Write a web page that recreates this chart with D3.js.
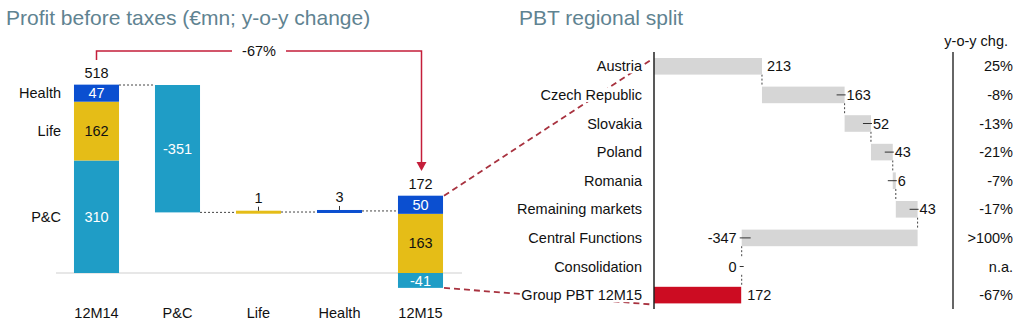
<!DOCTYPE html>
<html><head><meta charset="utf-8">
<script src="https://cdn.jsdelivr.net/npm/d3@7"></script>
<style>body{margin:0;background:#fff} svg{display:block;font-family:"Liberation Sans",Arial,sans-serif}</style>
</head><body><svg id="c" width="1024" height="330"></svg>
<script>
// ---------- data ----------
const wfCategories = ["12M14", "P&C", "Life", "Health", "12M15"];
const segments = ["P&C", "Life", "Health"];
const start2014 = [310, 162, 47];      // P&C, Life, Health
const total2014 = 518;
const changes = [-351, 1, 3];          // P&C, Life, Health
const end2015 = [-41, 163, 50];        // P&C, Life, Health
const total2015 = 172;
const overallChange = "-67%";

const regions = ["Austria", "Czech Republic", "Slovakia", "Poland", "Romania", "Remaining markets", "Central Functions", "Consolidation", "Group PBT 12M15"];
const regionValues = [213, 163, 52, 43, 6, 43, -347, 0, 172];
const yoyLabels = ["25%", "-8%", "-13%", "-21%", "-7%", "-17%", ">100%", "n.a.", "-67%"];

const titles = ["Profit before taxes (€mn; y-o-y change)", "PBT regional split"];

// ---------- styles ----------
const segColor = {"P&C": "#1f9dc6", "Life": "#e5bd17", "Health": "#0b4fd0"};
const segText = {"P&C": "#ffffff", "Life": "#111111", "Health": "#ffffff"};
const FS = "14.5px";
const red = "#c41e3a";

const svg = d3.select("#c");

// titles
svg.append("text").attr("x", 6).attr("y", 25).attr("font-size", "21px").attr("fill", "#5f8391").text(titles[0]);
svg.append("text").attr("x", 519).attr("y", 25).attr("font-size", "21px").attr("fill", "#5f8391").text(titles[1]);

// ---------- left waterfall ----------
const x = d3.scaleBand().domain(wfCategories).range([56, 461]).paddingInner(0.444).paddingOuter(0.222);
const y = d3.scaleLinear().domain([0, total2014]).range([273, 85]);
const bw = x.bandwidth();
const gL = svg.append("g");

// baseline
gL.append("line").attr("x1", 56).attr("x2", 462).attr("y1", y(0)).attr("y2", y(0)).attr("stroke", "#cfcfcf").attr("stroke-width", 1.2);

// 12M14 stack
let cum = 0;
const stack14 = segments.map((s, i) => { const d = {seg: s, v: start2014[i], y0: cum, y1: cum + start2014[i]}; cum += start2014[i]; return d; });
// 12M15 stack (positive up, negative down)
let pos = 0, neg = 0;
const stack15 = segments.map((s, i) => {
  const v = end2015[i];
  let d;
  if (v >= 0) { d = {seg: s, v, y0: pos, y1: pos + v}; pos += v; }
  else { d = {seg: s, v, y0: neg + v, y1: neg}; neg += v; }
  return d;
});

function drawStack(cat, stack) {
  stack.forEach(d => {
    gL.append("rect").attr("x", x(cat)).attr("width", bw)
      .attr("y", y(d.y1)).attr("height", y(d.y0) - y(d.y1)).attr("fill", segColor[d.seg]);
    gL.append("text").attr("x", x(cat) + bw / 2).attr("y", (y(d.y0) + y(d.y1)) / 2)
      .attr("dy", "0.35em").attr("text-anchor", "middle").attr("font-size", FS)
      .attr("fill", segText[d.seg]).text(d.v);
  });
}
drawStack("12M14", stack14);
drawStack("12M15", stack15);

// segment labels on left
stack14.forEach(d => {
  gL.append("text").attr("x", 61).attr("y", (y(d.y0) + y(d.y1)) / 2).attr("dy", "0.35em")
    .attr("text-anchor", "end").attr("font-size", FS).attr("fill", "#111").text(d.seg);
});

// totals
gL.append("text").attr("x", x("12M14") + bw / 2).attr("y", y(cum) - 7).attr("text-anchor", "middle")
  .attr("font-size", FS).attr("fill", "#111").text(total2014);
gL.append("text").attr("x", x("12M15") + bw / 2).attr("y", y(pos) - 7).attr("text-anchor", "middle")
  .attr("font-size", FS).attr("fill", "#111").text(total2015);

// change bars
let running = total2014;
let prevRight = x("12M14") + bw;
changes.forEach((c, i) => {
  const cat = segments[i];
  const a = running, b = running + c;
  gL.append("line").attr("x1", prevRight).attr("x2", x(cat)).attr("y1", y(a)).attr("y2", y(a))
    .attr("stroke", "#444").attr("stroke-width", 1).attr("stroke-dasharray", "2,2");
  const top = y(Math.max(a, b)), bot = y(Math.min(a, b));
  let h = bot - top;
  let yy = top;
  if (h < 3) { yy = (top + bot) / 2 - 1.5; h = 3; }
  gL.append("rect").attr("x", x(cat)).attr("width", bw).attr("y", yy).attr("height", h).attr("fill", segColor[cat]);
  if (Math.abs(c) > 20) {
    gL.append("text").attr("x", x(cat) + bw / 2).attr("y", (top + bot) / 2).attr("dy", "0.35em")
      .attr("text-anchor", "middle").attr("font-size", FS).attr("fill", segText[cat]).text(c);
  } else {
    gL.append("line").attr("x1", x(cat) + bw / 2).attr("x2", x(cat) + bw / 2).attr("y1", yy).attr("y2", yy - 4)
      .attr("stroke", "#333").attr("stroke-width", 1);
    gL.append("text").attr("x", x(cat) + bw / 2).attr("y", yy - 8).attr("text-anchor", "middle")
      .attr("font-size", FS).attr("fill", "#111").text(c);
  }
  running = b;
  prevRight = x(cat) + bw;
});
gL.append("line").attr("x1", prevRight).attr("x2", x("12M15")).attr("y1", y(running)).attr("y2", y(running))
  .attr("stroke", "#444").attr("stroke-width", 1).attr("stroke-dasharray", "2,2");

// category axis labels
wfCategories.forEach(c => {
  gL.append("text").attr("x", x(c) + bw / 2).attr("y", 318).attr("text-anchor", "middle")
    .attr("font-size", FS).attr("fill", "#111").text(c);
});

// bracket with -67%
const bx1 = x("12M14") + bw / 2, bx2 = x("12M15") + bw / 2 + 1, by = 51;
const midX = (bx1 + bx2) / 2;
gL.append("path").attr("d", `M${bx1},60 V${by} H${midX - 27}`).attr("fill", "none").attr("stroke", red).attr("stroke-width", 1.5);
gL.append("path").attr("d", `M${midX + 27},${by} H${bx2} V${163}`).attr("fill", "none").attr("stroke", red).attr("stroke-width", 1.5);
gL.append("path").attr("d", `M${bx2 - 5},162 L${bx2 + 5},162 L${bx2},171 Z`).attr("fill", red);
gL.append("text").attr("x", midX).attr("y", by).attr("dy", "0.35em").attr("text-anchor", "middle")
  .attr("font-size", FS).attr("fill", "#111").text(overallChange);

// ---------- right regional waterfall ----------
const xr = d3.scaleLinear().domain([0, 520]).range([654, 917.6]);
const yr = d3.scaleBand().domain(regions).range([52, 309.4]).paddingInner(0.42).paddingOuter(0.21);
const bh = yr.bandwidth();
const gR = svg.append("g");

let rc = 0;
const rbars = regions.map((r, i) => {
  const v = regionValues[i];
  let s, e;
  if (i === regions.length - 1) { s = 0; e = v; }
  else { s = rc; e = rc + v; rc = e; }
  return {r, v, s, e, i};
});

// dashed red link lines (behind labels)
gR.append("line").attr("x1", x("12M15") + bw + 1).attr("y1", y(pos)).attr("x2", xr(0) - 3).attr("y2", yr(regions[0]) + 2)
  .attr("stroke", "#a8323f").attr("stroke-width", 1.8).attr("stroke-dasharray", "6,4");
gR.append("line").attr("x1", x("12M15") + bw + 1).attr("y1", y(neg)).attr("x2", xr(0) - 3).attr("y2", yr(regions[8]) + bh + 1)
  .attr("stroke", "#a8323f").attr("stroke-width", 1.8).attr("stroke-dasharray", "6,4");

// connectors
rbars.forEach((d, i) => {
  if (i >= rbars.length - 1) return;
  const nx = xr(d.e);
  gR.append("line").attr("x1", nx).attr("x2", nx).attr("y1", yr(d.r) + bh).attr("y2", yr(rbars[i + 1].r))
    .attr("stroke", "#444").attr("stroke-width", 1).attr("stroke-dasharray", "2,2");
});

rbars.forEach((d, i) => {
  const last = i === rbars.length - 1;
  const x0 = xr(Math.min(d.s, d.e)), x1 = xr(Math.max(d.s, d.e));
  if (x1 - x0 > 0) {
    gR.append("rect").attr("x", x0).attr("width", x1 - x0).attr("y", yr(d.r)).attr("height", bh)
      .attr("fill", last ? "#cc0c22" : "#d6d6d6");
  }
  const cy = yr(d.r) + bh / 2;
  const ex = xr(d.e);
  if (i === 0 || last) {
    gR.append("text").attr("x", ex + (last ? 6 : 5)).attr("y", cy).attr("dy", "0.35em").attr("font-size", FS)
      .attr("fill", "#111").text(d.v);
  } else if (d.v > 0) {
    gR.append("line").attr("x1", ex - 8).attr("x2", ex + 1).attr("y1", cy).attr("y2", cy).attr("stroke", "#333").attr("stroke-width", 1);
    gR.append("text").attr("x", ex + 2).attr("y", cy).attr("dy", "0.35em").attr("font-size", FS)
      .attr("fill", "#111").text(d.v);
  } else {
    const tl = d.v === 0 ? 2 : 9;
    gR.append("line").attr("x1", ex - 2).attr("x2", ex + tl).attr("y1", cy).attr("y2", cy).attr("stroke", "#333").attr("stroke-width", 1);
    gR.append("text").attr("x", ex - 5).attr("y", cy).attr("dy", "0.35em").attr("text-anchor", "end").attr("font-size", FS)
      .attr("fill", "#111").text(d.v);
  }
  // region label with white background
  const lg = gR.append("g");
  const bg = lg.append("rect").attr("fill", "#fff");
  const t = lg.append("text").attr("x", 642).attr("y", cy).attr("dy", "0.35em").attr("text-anchor", "end").attr("font-size", FS)
    .attr("fill", "#111").text(d.r);
  const bb = t.node().getBBox();
  bg.attr("x", bb.x - 1).attr("y", bb.y + 1).attr("width", bb.width + 2).attr("height", bb.height - 2);
  // yoy
  gR.append("text").attr("x", 1013).attr("y", cy).attr("dy", "0.35em").attr("text-anchor", "end").attr("font-size", FS)
    .attr("fill", "#111").text(yoyLabels[i]);
});

// axis line
gR.append("line").attr("x1", xr(0)).attr("x2", xr(0)).attr("y1", 52).attr("y2", 309).attr("stroke", "#222").attr("stroke-width", 1.5);
// yoy column
gR.append("line").attr("x1", 953).attr("x2", 953).attr("y1", 52).attr("y2", 309).attr("stroke", "#666").attr("stroke-width", 2);
gR.append("text").attr("x", 1008).attr("y", 46).attr("text-anchor", "end").attr("font-size", FS).attr("fill", "#111").text("y-o-y chg.");
</script></body></html>
